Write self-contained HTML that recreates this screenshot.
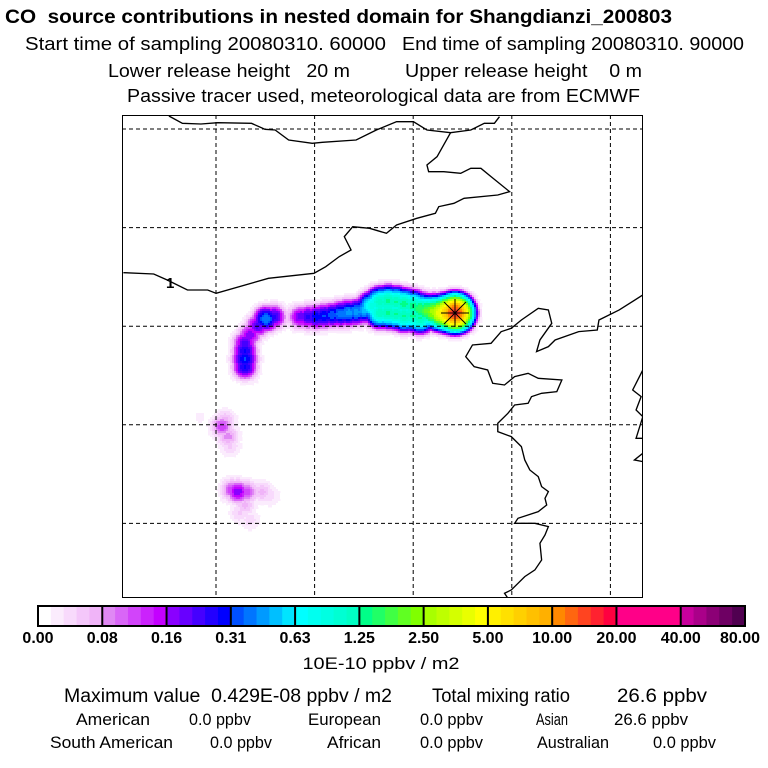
<!DOCTYPE html>
<html><head><meta charset="utf-8"><style>
html,body{margin:0;padding:0;background:#fff;}
svg{display:block;font-family:"Liberation Sans",sans-serif;}
text{white-space:pre;}
</style></head><body>
<svg id="chart" width="768" height="768" viewBox="0 0 768 768" xml:space="preserve">
<g font-size="18">
<text x="5" y="23" font-weight="bold" font-size="19" textLength="667" lengthAdjust="spacingAndGlyphs">CO  source contributions in nested domain for Shangdianzi_200803</text>
<text x="25" y="50" textLength="361" lengthAdjust="spacingAndGlyphs">Start time of sampling 20080310. 60000</text>
<text x="402" y="50" textLength="342" lengthAdjust="spacingAndGlyphs">End time of sampling 20080310. 90000</text>
<text x="108" y="77" textLength="242" lengthAdjust="spacingAndGlyphs">Lower release height   20 m</text>
<text x="405" y="77" textLength="237" lengthAdjust="spacingAndGlyphs">Upper release height    0 m</text>
<text x="127" y="102" textLength="513" lengthAdjust="spacingAndGlyphs">Passive tracer used, meteorological data are from ECMWF</text>
</g>
<defs><clipPath id="mapclip"><rect x="122" y="115" width="521" height="483"/></clipPath></defs>
<g clip-path="url(#mapclip)">
<g id="plume" shape-rendering="crispEdges"></g>
<g id="grid"></g>
<g transform="translate(120,110) scale(0.3373,0.3333)" fill="none" stroke="#000" stroke-width="4">
<polyline points="145,18 185,40 240,42 290,38 390,40 430,58 460,60 500,90 570,100 600,97 700,90 760,60 820,35 870,35 910,60 980,68 1040,60 1080,40 1110,40 1125,20"/>
<polyline points="980,68 940,140 910,165 915,185 960,185 1010,190 1040,175 1070,175 1100,200 1155,245 1120,255 1020,265 990,280 945,290 935,310 880,325 820,345 790,370 740,355 690,350 665,380 685,420 650,440 610,470 575,490 440,505 285,550 260,540 200,540 140,510 100,492 10,488"/>
<polyline points="1550,555 1480,600 1420,630 1415,660 1360,665 1290,690 1270,710 1235,725 1245,690 1280,640 1270,600 1240,595 1190,630 1160,655 1130,665 1100,700 1045,705 1025,740 1050,770 1090,780 1105,820 1140,825 1170,800 1210,790 1240,805 1310,810 1295,845 1250,850 1220,860 1210,880 1170,885 1150,910 1120,940 1120,965 1160,980 1190,1010 1200,1050 1215,1080 1240,1100 1250,1130 1270,1145 1260,1165 1265,1185 1240,1205 1180,1225 1170,1240 1230,1240 1270,1250 1260,1275 1245,1300 1250,1350 1230,1380 1200,1400 1180,1420 1160,1440 1140,1450 1150,1465"/>
<polyline points="1550,780 1520,840 1545,860 1530,900 1550,920 1530,985 1550,985"/>
<polyline points="1550,1030 1525,1050 1550,1055"/>
</g>
<text x="166" y="288" font-size="15" font-weight="bold">1</text>
<g stroke="#000" stroke-width="1">
<line x1="441" y1="313" x2="469" y2="313"/><line x1="455" y1="299" x2="455" y2="327"/>
<line x1="444" y1="302" x2="466" y2="324"/><line x1="444" y1="324" x2="466" y2="302"/>
</g>
</g>
<rect x="122.5" y="115.5" width="520" height="482" fill="none" stroke="#000" stroke-width="1"/>
<g id="cbar"></g>
<text x="381" y="669" font-size="17" text-anchor="middle" textLength="157" lengthAdjust="spacingAndGlyphs">10E-10 ppbv / m2</text>
<g font-size="19">
<text x="64" y="702" textLength="328" lengthAdjust="spacingAndGlyphs">Maximum value  0.429E-08 ppbv / m2</text>
<text x="432" y="702" textLength="138" lengthAdjust="spacingAndGlyphs">Total mixing ratio</text>
<text x="617" y="702" textLength="90" lengthAdjust="spacingAndGlyphs">26.6 ppbv</text>
</g>
<g font-size="17">
<text x="76" y="725" textLength="74" lengthAdjust="spacingAndGlyphs">American</text>
<text x="189" y="725" textLength="62" lengthAdjust="spacingAndGlyphs">0.0 ppbv</text>
<text x="308" y="725" textLength="73" lengthAdjust="spacingAndGlyphs">European</text>
<text x="420" y="725" textLength="63" lengthAdjust="spacingAndGlyphs">0.0 ppbv</text>
<text x="536" y="725" textLength="32" lengthAdjust="spacingAndGlyphs">Asian</text>
<text x="614" y="725" textLength="74" lengthAdjust="spacingAndGlyphs">26.6 ppbv</text>
<text x="50" y="748" textLength="123" lengthAdjust="spacingAndGlyphs">South American</text>
<text x="210" y="748" textLength="62" lengthAdjust="spacingAndGlyphs">0.0 ppbv</text>
<text x="327" y="748" textLength="54" lengthAdjust="spacingAndGlyphs">African</text>
<text x="420" y="748" textLength="63" lengthAdjust="spacingAndGlyphs">0.0 ppbv</text>
<text x="537" y="748" textLength="72" lengthAdjust="spacingAndGlyphs">Australian</text>
<text x="653" y="748" textLength="63" lengthAdjust="spacingAndGlyphs">0.0 ppbv</text>
</g>
</svg>
<script>
var levels = [0.00, 0.08, 0.16, 0.31, 0.63, 1.25, 2.50, 5.00, 10.00, 20.00, 40.00, 80.00];
var levelLabels = ["0.00","0.08","0.16","0.31","0.63","1.25","2.50","5.00","10.00","20.00","40.00","80.00"];
var segStart = ["#ffffff","#e088f4","#8a00ff","#0050ff","#00ffff","#00ff88","#a8ff00","#fff000","#ff8800","#ff0088","#c8009c"];
var segEnd   = ["#f0b4f8","#c400ff","#0000ff","#00e4ff","#00ffc4","#80ff00","#ffff00","#ffb000","#ff0040","#ff0088","#500050"];
// plume samples: longitude (grid units), latitude row (grid units), value (10E-10 ppbv/m2)
var plumeU = [3.424,3.353,3.282,3.211,3.140,3.069,3.069,2.998,2.998,2.907,2.907,2.826,2.826,2.745,2.745,2.664,2.664,2.583,2.503,2.422,2.341,2.260,2.179,2.097,2.016,1.935,1.854,1.773,1.682,1.588,1.507,1.426,1.345,1.294,1.294,1.294,1.294,1.335,0.838,1.061,1.122,1.142,1.091,1.223,1.162,1.314,1.466,1.547,1.294,1.345,1.243];
var plumeV = [1.866,1.866,1.866,1.856,1.846,1.826,1.917,1.795,1.897,1.775,1.897,1.755,1.876,1.745,1.866,1.755,1.866,1.795,1.836,1.856,1.866,1.876,1.886,1.896,1.906,1.906,1.906,1.906,1.906,1.906,1.926,1.996,2.089,2.170,2.251,2.332,2.413,2.474,2.925,3.017,3.118,3.219,2.955,3.681,3.661,3.681,3.681,3.722,3.814,3.966,3.895];
var plumeVal = [16,8,4.5,2.8,2.0,1.6,1.3,1.4,1.3,1.4,1.3,1.3,1.3,1.3,1.3,1.2,1.2,0.9,0.5,0.45,0.45,0.4,0.35,0.32,0.3,0.25,0.2,0.08,0.06,0.25,0.4,0.22,0.18,0.22,0.28,0.32,0.28,0.06,0.02,0.12,0.09,0.05,0.07,0.18,0.12,0.12,0.07,0.04,0.07,0.04,0.05];
var gridU = [1,2,3,4,5];
var gridV = [0,1,2,3,4];

var NS = "http://www.w3.org/2000/svg";
function xScale(u){ return 117.4 + 98.6*u; }
function yScale(v){ return 129 + 98.6*v; }
function hexToRgb(h){ return [parseInt(h.substr(1,2),16),parseInt(h.substr(3,2),16),parseInt(h.substr(5,2),16)]; }
function mix(a,b,t){ var A=hexToRgb(a),B=hexToRgb(b); return "rgb("+A.map(function(c,i){return Math.round(c+(B[i]-c)*t);}).join(",")+")"; }
function levelIndex(val){ var k=0; for(var i=0;i<levels.length-1;i++){ if(val>=levels[i]) k=i; } return k; }
var SUB=5;
function bandIndex(val){
  var k=levelIndex(val); var lo=levels[k], hi=levels[k+1], t;
  if(k===0) t=val/hi; else t=(Math.log(val)-Math.log(lo))/(Math.log(hi)-Math.log(lo));
  var j=Math.min(SUB-1,Math.max(0,Math.floor(t*SUB)));
  return k*SUB+j;
}
function bandColor(b){ var k=Math.floor(b/SUB), j=b%SUB; return mix(segStart[k],segEnd[k],j/(SUB-1)); }
var grid=document.getElementById("grid");
gridU.forEach(function(u){
  var l=document.createElementNS(NS,"line");
  l.setAttribute("x1",xScale(u));l.setAttribute("x2",xScale(u));l.setAttribute("y1",115);l.setAttribute("y2",598);
  l.setAttribute("stroke","#000");l.setAttribute("stroke-dasharray","4,3");
  
  
  grid.appendChild(l);
});
gridV.forEach(function(v){
  var l=document.createElementNS(NS,"line");
  l.setAttribute("y1",yScale(v));l.setAttribute("y2",yScale(v));l.setAttribute("x1",122);l.setAttribute("x2",643);
  l.setAttribute("stroke","#000");l.setAttribute("stroke-dasharray","4,3");
  
  
  grid.appendChild(l);
});
var plume=document.getElementById("plume");
var SIG=7.5, CELL=2, THR=0.012;
var px=plumeU.map(xScale), py=plumeV.map(yScale);
var minX=Math.min.apply(null,px)-30, maxX=Math.max.apply(null,px)+30;
var minY=Math.min.apply(null,py)-30, maxY=Math.max.apply(null,py)+30;
function field(x,y){
  var m=0;
  for(var i=0;i<plumeVal.length;i++){
    var dx=x-px[i], dy=y-py[i], d2=dx*dx+dy*dy;
    if(d2>1600) continue;
    var f=plumeVal[i]*Math.exp(-d2/(2*SIG*SIG));
    if(f>m) m=f;
  }
  return m;
}
for(var y=minY;y<maxY;y+=CELL){
  var runStart=null, runBand=-1;
  for(var x=minX;x<=maxX+CELL;x+=CELL){
    var f=(x>maxX)?0:field(x+CELL/2,y+CELL/2);
    var b=f>THR?bandIndex(f):-1;
    if(b!==runBand){
      if(runBand>=0){
        var r=document.createElementNS(NS,"rect");
        r.setAttribute("x",runStart);r.setAttribute("y",y);
        r.setAttribute("width",x-runStart+0.3);r.setAttribute("height",CELL+0.3);
        r.setAttribute("fill",bandColor(runBand));
        
        
        plume.appendChild(r);
      }
      runStart=x; runBand=b;
    }
  }
}
var cb=document.getElementById("cbar");
var x0=38,x1=745,y0=606,h=20,nseg=levels.length-1,sw=(x1-x0)/nseg;
for(var s=0;s<nseg;s++){
  for(var j=0;j<SUB;j++){
    var r=document.createElementNS(NS,"rect");
    r.setAttribute("x",x0+s*sw+j*sw/SUB);r.setAttribute("y",y0);
    r.setAttribute("width",sw/SUB+0.5);r.setAttribute("height",h);
    r.setAttribute("fill",bandColor(s*SUB+j));
    
    
    cb.appendChild(r);
  }
}
for(var s=0;s<=nseg;s++){
  var l=document.createElementNS(NS,"line");
  l.setAttribute("x1",x0+s*sw);l.setAttribute("x2",x0+s*sw);l.setAttribute("y1",y0);l.setAttribute("y2",y0+h);
  l.setAttribute("stroke","#000");l.setAttribute("stroke-width","2");
  
  
  cb.appendChild(l);
  var t=document.createElementNS(NS,"text");
  var tx=x0+s*sw; if(s===0) tx=Math.max(tx,20); if(s===nseg) tx=Math.min(tx,740);
  t.setAttribute("x",tx);t.setAttribute("y",643);t.setAttribute("text-anchor","middle");
  t.setAttribute("font-size","16");t.setAttribute("font-weight","bold");
  t.textContent=levelLabels[s];
  
  
  cb.appendChild(t);
}
var fr=document.createElementNS(NS,"rect");
fr.setAttribute("x",x0);fr.setAttribute("y",y0);fr.setAttribute("width",x1-x0);fr.setAttribute("height",h);
fr.setAttribute("fill","none");fr.setAttribute("stroke","#000");fr.setAttribute("stroke-width","2");


cb.appendChild(fr);
</script>
</body></html>
